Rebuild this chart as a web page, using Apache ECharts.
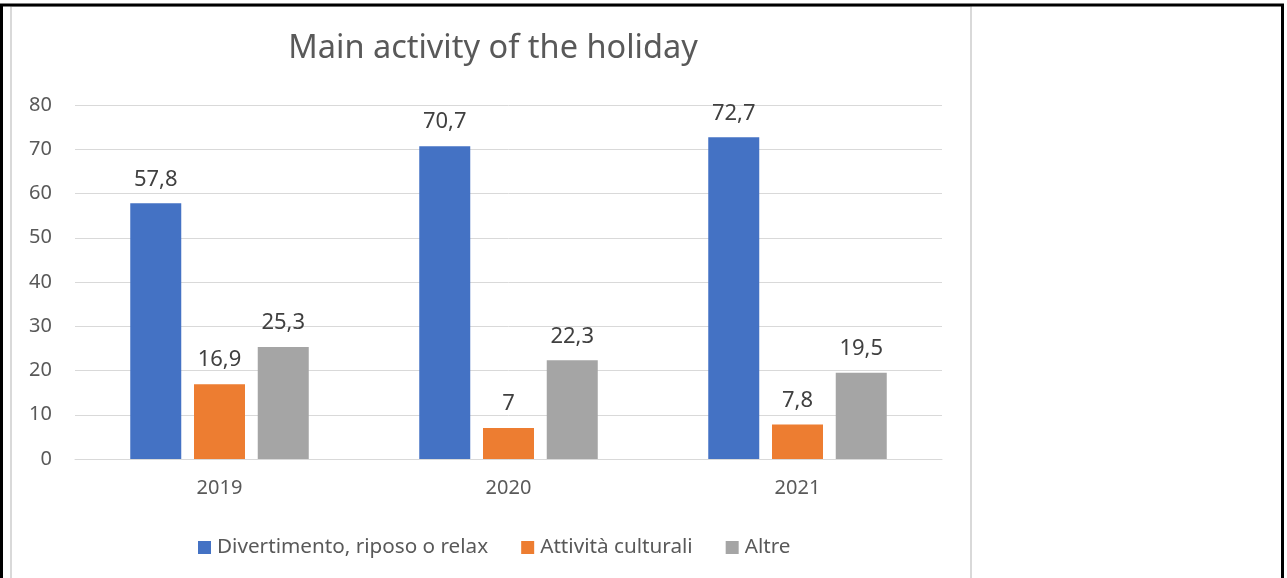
<!DOCTYPE html>
<html>
<head>
<meta charset="utf-8">
<script src="https://cdn.jsdelivr.net/npm/echarts@6/dist/echarts.min.js"></script>
<style>
html,body{margin:0;padding:0;background:#fff;}
#chart{width:1287px;height:578px;}
</style>
</head>
<body>
<div id="chart"></div>
<script>
const categories = ['2019', '2020', '2021'];
const seriesNames = ['Divertimento, riposo o relax', 'Attività culturali', 'Altre'];
const divertimento = [57.8, 70.7, 72.7];
const culturali = [16.9, 7, 7.8];
const altre = [25.3, 22.3, 19.5];
const yTicks = [0, 10, 20, 30, 40, 50, 60, 70, 80];
const titleText = 'Main activity of the holiday';

const colors = ['#4472C4', '#ED7D31', '#A5A5A5'];
const FONT = 'Noto Sans';

const chart = echarts.init(document.getElementById('chart'), null, {renderer: 'canvas'});

function fmt(v) { return String(v).replace('.', ','); }

const dataSets = [divertimento, culturali, altre];
const series = dataSets.map((d, i) => ({
  name: seriesNames[i],
  type: 'bar',
  data: d,
  barWidth: 51,
  barGap: '25%',
  itemStyle: {color: colors[i]},
  label: {
    show: true,
    position: 'top',
    distance: 13,
    color: '#404040',
    fontFamily: FONT,
    fontSize: 22,
    formatter: p => fmt(p.value)
  }
}));

chart.setOption({
  backgroundColor: '#fff',
  animation: false,
  title: {
    text: titleText,
    left: 488,
    textAlign: 'center',
    top: 27,
    textStyle: {color: '#595959', fontFamily: FONT, fontSize: 32.5, fontWeight: 'normal'}
  },
  legend: {
    left: 193,
    top: 532,
    itemWidth: 13,
    itemHeight: 13,
    itemGap: 33,
    icon: 'rect',
    textStyle: {color: '#595959', fontFamily: FONT, fontSize: 20.7, padding: [0, 0, 0, 1]},
    data: seriesNames
  },
  grid: {left: 75, right: 345, top: 105, bottom: 119, containLabel: false},
  xAxis: {
    type: 'category',
    data: categories,
    axisLine: {show: true, lineStyle: {color: '#D9D9D9', width: 1}},
    axisTick: {show: false},
    axisLabel: {color: '#595959', fontFamily: FONT, fontSize: 20, margin: 19}
  },
  yAxis: {
    type: 'value',
    min: yTicks[0],
    max: yTicks[yTicks.length - 1],
    interval: yTicks[1] - yTicks[0],
    axisLine: {show: false},
    axisTick: {show: false},
    splitLine: {lineStyle: {color: '#D9D9D9', width: 1}},
    axisLabel: {color: '#595959', fontFamily: FONT, fontSize: 20, margin: 23}
  },
  graphic: [
    {type: 'rect', shape: {x: 11, y: 6, width: 960, height: 620}, style: {fill: 'none', stroke: '#D9D9D9', lineWidth: 2}, silent: true, z: -1},
    {type: 'rect', shape: {x: 1.5, y: 5, width: 1281, height: 620}, style: {fill: 'none', stroke: '#000', lineWidth: 3}, silent: true, z: -1}
  ],
  series: series
});
</script>
</body>
</html>
